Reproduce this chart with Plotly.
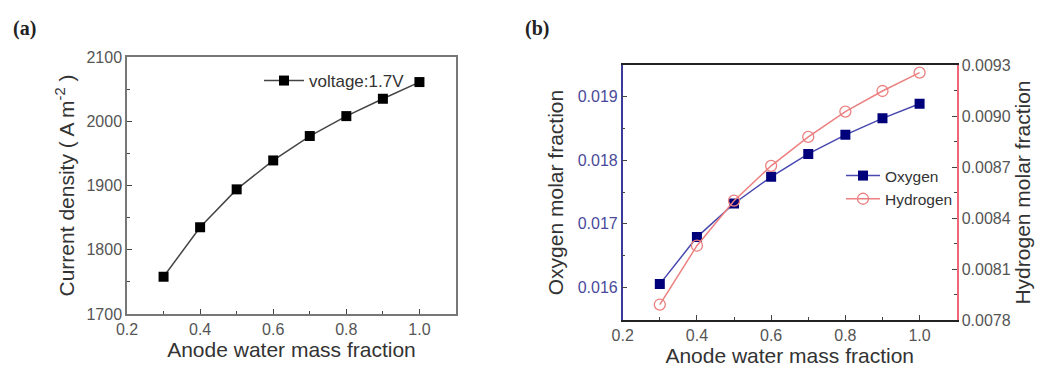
import plotly.graph_objects as go

x_vals = [0.3, 0.4, 0.5, 0.6, 0.7, 0.8, 0.9, 1.0]
current_density = [1758, 1835, 1894, 1939, 1977, 2008, 2035, 2061]
oxygen = [0.01605, 0.01679, 0.01732, 0.01774, 0.01810, 0.01840, 0.01866, 0.01889]
hydrogen = [0.007891, 0.008237, 0.008502, 0.008707, 0.008877, 0.009026, 0.009147, 0.009255]

FONT = "Liberation Sans, Arial, sans-serif"
tickfont = dict(family=FONT, size=16, color="#555555")
titlefont = dict(family=FONT, size=21, color="#333333")

fig = go.Figure()

fig.add_trace(go.Scatter(
    x=x_vals, y=current_density, mode="lines+markers", name="voltage:1.7V",
    line=dict(color="#444444", width=1.5),
    marker=dict(symbol="square", size=10, color="black"),
    xaxis="x", yaxis="y", legend="legend"))

fig.add_trace(go.Scatter(
    x=x_vals, y=oxygen, mode="lines+markers", name="Oxygen",
    line=dict(color="#4848b0", width=1.5),
    marker=dict(symbol="square", size=10, color="#00007a"),
    xaxis="x2", yaxis="y2", legend="legend2"))

fig.add_trace(go.Scatter(
    x=x_vals, y=hydrogen, mode="lines+markers", name="Hydrogen",
    line=dict(color="#ec8080", width=1.5),
    marker=dict(symbol="circle-open", size=11, color="#ec8080", line=dict(width=1.3)),
    xaxis="x2", yaxis="y3", legend="legend2"))

xcommon = dict(range=[0.2, 1.1], dtick=0.2, tickformat=".1f", ticks="inside", ticklen=5,
               minor=dict(ticks="inside", ticklen=3, dtick=0.1), automargin=False,
               showgrid=False, zeroline=False, showline=True, tickfont=tickfont)

fig.update_layout(
    width=1037, height=367,
    margin=dict(l=0, r=0, t=0, b=0),
    paper_bgcolor="white", plot_bgcolor="white",
    xaxis=dict(domain=[127 / 1037, 456 / 1037], anchor="y", linecolor="#777777", linewidth=1.5,
               mirror=True,
               title=dict(text="Anode water mass fraction", font=titlefont, standoff=5),
               **xcommon),
    yaxis=dict(domain=[53 / 367, 310 / 367], anchor="x", range=[1700, 2100], dtick=100,
               ticks="inside", ticklen=5, minor=dict(ticks="inside", ticklen=3, dtick=50),
               showgrid=False, zeroline=False, showline=True, linecolor="#777777",
               linewidth=1.5, mirror=True, tickfont=tickfont, automargin=False,
               title=dict(text="Current density ( A m<sup>-2</sup> )", font=titlefont, standoff=6)),
    xaxis2=dict(domain=[622.7 / 1037, 956.7 / 1037], anchor="y2", linecolor="#222222", linewidth=1.5,
                mirror=True,
                title=dict(text="Anode water mass fraction", font=titlefont, standoff=6),
                **xcommon),
    yaxis2=dict(domain=[47 / 367, 302 / 367], anchor="x2", range=[0.015485, 0.0195], dtick=0.001,
                tickformat=".3f", ticks="inside", ticklen=5, automargin=False,
                minor=dict(ticks="inside", ticklen=3, dtick=0.0005),
                showgrid=False, zeroline=False, showline=True, linecolor="#3a3a9a",
                linewidth=1.5, tickfont=dict(family=FONT, size=16, color="#4a4a9a"),
                title=dict(text="Oxygen molar fraction", font=titlefont, standoff=8)),
    yaxis3=dict(overlaying="y2", side="right", anchor="x2", range=[0.0078, 0.0093],
                dtick=0.0003, tickformat=".4f", ticks="inside", ticklen=5, automargin=False,
                minor=dict(ticks="inside", ticklen=3, dtick=0.00015),
                showgrid=False, zeroline=False, showline=True, linecolor="#ee6677",
                linewidth=1.5, tickfont=tickfont,
                title=dict(text="Hydrogen molar fraction", font=titlefont, standoff=6)),
    legend=dict(x=410 / 1037, y=(367 - 63) / 367, xanchor="right", yanchor="top",
                bgcolor="rgba(0,0,0,0)", font=dict(family=FONT, size=17, color="#333333"),
                itemwidth=40),
    legend2=dict(x=841 / 1037, y=(367 - 159) / 367, xanchor="left", yanchor="top",
                 bgcolor="rgba(0,0,0,0)", font=dict(family=FONT, size=15.5, color="#333333"),
                 itemwidth=34, tracegroupgap=0),
    showlegend=True,
    annotations=[
        dict(text="<b>(a)</b>", x=24 / 1037, y=(367 - 29) / 367, xref="paper", yref="paper",
             showarrow=False, xanchor="center", yanchor="middle",
             font=dict(family="Liberation Serif, Times New Roman, serif", size=20, color="#222")),
        dict(text="<b>(b)</b>", x=537 / 1037, y=(367 - 29) / 367, xref="paper", yref="paper",
             showarrow=False, xanchor="center", yanchor="middle",
             font=dict(family="Liberation Serif, Times New Roman, serif", size=20, color="#222")),
    ],
)

fig.write_html("out.html")
